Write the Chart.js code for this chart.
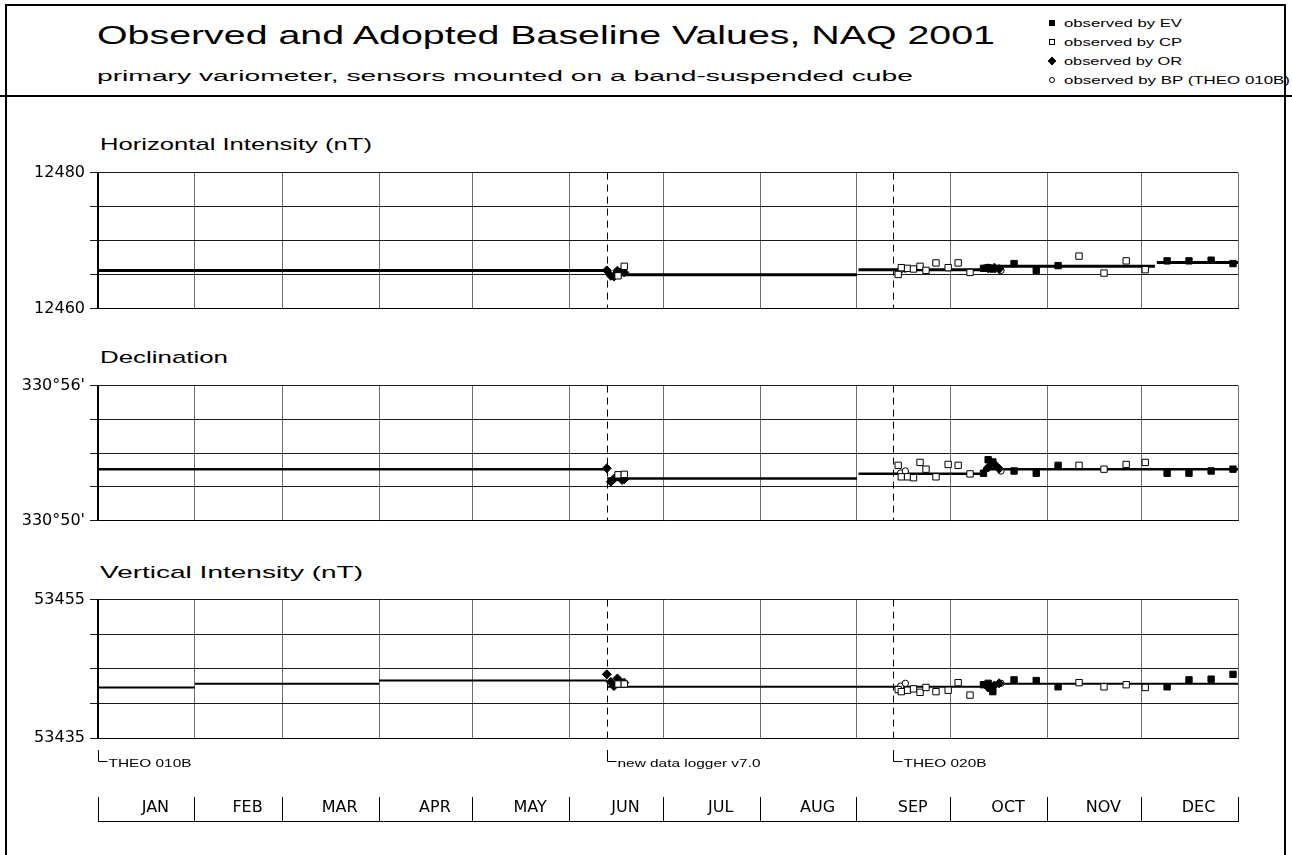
<!DOCTYPE html>
<html>
<head>
<meta charset="utf-8">
<script src="https://cdn.jsdelivr.net/npm/chart.js@4/dist/chart.umd.min.js"></script>
<style>
  body { margin: 0; background: #fff; width: 1292px; height: 855px; position: relative; overflow: hidden;
         font-family: "Liberation Sans", Arial, sans-serif; color: #000; }
  canvas { position: absolute; left: 0; }
  .t { position: absolute; white-space: nowrap; line-height: 1; transform-origin: 0 50%; }
  .rule { position: absolute; background: #000; }
  .mk { position: absolute; width: 6px; height: 6px; box-sizing: border-box; border: 1px solid #000; }
</style>
</head>
<body>
<div class="rule" style="left:5px;top:4px;width:2px;height:851px"></div>
<div class="rule" style="left:5px;top:4px;width:1281px;height:2px"></div>
<div class="rule" style="left:1284px;top:4px;width:2px;height:851px"></div>
<div class="rule" style="left:0;top:95px;width:1292px;height:2px"></div>

<div class="mk" style="left:1049px;top:20px;background:#000"></div>
<div class="mk" style="left:1049px;top:39px;background:#fff"></div>
<div class="mk" style="left:1049px;top:58px;background:#000;transform:rotate(45deg)"></div>
<div class="mk" style="left:1049px;top:77px;background:#fff;border-radius:50%"></div>

<canvas id="panelH" width="1250" height="165" style="top:158px"></canvas>
<canvas id="panelD" width="1250" height="164" style="top:371px"></canvas>
<canvas id="panelZ" width="1250" height="193" style="top:585px"></canvas>
<canvas id="months" width="1250" height="40" style="top:790px"></canvas>

<script>
// month layout (day of year 2001)
const monthStarts = [0, 31, 59, 90, 120, 151, 181, 212, 243, 273, 304, 334, 365];
const monthNames = ['JAN', 'FEB', 'MAR', 'APR', 'MAY', 'JUN', 'JUL', 'AUG', 'SEP', 'OCT', 'NOV', 'DEC'];

// instrument changes
const changeDays = [163, 254.6];
const noteDays = [0, 163, 254.6];
const noteLabels = ['THEO 010B', 'new data logger v7.0', 'THEO 020B'];

// observations: day of year, H (nT), D (minutes past 330°), Z (nT)
const evDays = [283.5, 285, 286.5, 293.3, 300.4, 307.4, 342.3, 349.3, 356.4, 363.4];
const evH = [12465.9, 12466.0, 12465.8, 12466.6, 12465.6, 12466.3, 12467.0, 12467.0, 12467.1, 12466.6];
const evD = [52.1, 52.7, 52.6, 52.2, 52.1, 52.45, 52.1, 52.1, 52.2, 52.28];
const evZ = [53442.7, 53442.9, 53441.7, 53443.4, 53443.3, 53442.4, 53442.4, 53443.4, 53443.5, 53444.2];

const cpDays = [166.5, 168.5, 256.2, 257.2, 259.2, 261.1, 263.2, 265.1, 268.3, 272.2, 275.4, 279.2, 314.1, 322.1, 329.2, 335.3];
const cpH = [12464.8, 12466.2, 12465.0, 12466.0, 12465.9, 12465.8, 12466.2, 12465.6, 12466.7, 12466.0, 12466.7, 12465.3, 12467.7, 12465.2, 12467.0, 12465.7];
const cpD = [52.03, 52.05, 52.45, 51.94, 51.94, 51.9, 52.58, 52.28, 51.94, 52.49, 52.45, 52.07, 52.45, 52.28, 52.49, 52.58];
const cpZ = [53442.8, 53442.8, 53442.0, 53441.7, 53441.9, 53442.1, 53441.6, 53442.3, 53441.7, 53441.9, 53443.0, 53441.2, 53443.0, 53442.4, 53442.7, 53442.3];

const orDays = [162.9, 164.2, 165.2, 166.3, 167.8, 168.5, 285.0, 287.0, 288.5];
const orH = [12465.6, 12464.8, 12464.7, 12465.55, 12465.45, 12465.3, 12465.9, 12466.0, 12465.8];
const orD = [52.32, 51.72, 51.85, 51.95, 51.8, 51.83, 52.35, 52.5, 52.3];
const orZ = [53444.2, 53443.1, 53442.5, 53443.6, 53442.9, 53443.0, 53442.3, 53442.6, 53442.9];

const bpDays = [257.0, 258.5, 289.1];
const bpH = [12465.7, 12465.8, 12465.6];
const bpD = [52.11, 52.2, 52.2];
const bpZ = [53442.5, 53442.9, 53442.9];

// adopted baselines: [from day, to day, value]
const baseH = [[0, 163, 12465.6], [163, 243, 12464.95], [243.5, 282.4, 12465.7], [283.3, 338.4, 12466.2], [339, 365, 12466.75]];
const baseD = [[0, 163, 52.28], [163, 243, 51.86], [243.5, 282.4, 52.08], [283.3, 365, 52.28]];
const baseZ = [[0, 31, 53442.3], [31, 90, 53442.85], [90, 163, 53443.3], [163, 282.4, 53442.4], [283.3, 365, 53442.85]];

const tickFont = { family: '"DejaVu Sans", sans-serif', size: 16 };

function pts(days, vals) {
  return days.map((d, i) => ({ x: d, y: vals[i] }));
}

const changeLines = {
  id: 'changeLines',
  beforeDatasetsDraw(chart) {
    const { ctx, chartArea: a, scales: { x } } = chart;
    ctx.save();
    ctx.strokeStyle = '#000';
    ctx.lineWidth = 1;
    ctx.setLineDash([7, 5]);
    changeDays.forEach(d => {
      const px = Math.round(x.getPixelForValue(d)) + 0.5;
      ctx.beginPath();
      ctx.moveTo(px, a.top);
      ctx.lineTo(px, a.bottom);
      ctx.stroke();
    });
    ctx.restore();
  }
};

const notes = {
  id: 'notes',
  afterDraw(chart) {
    const { ctx, chartArea: a, scales: { x } } = chart;
    ctx.save();
    ctx.strokeStyle = '#000';
    ctx.fillStyle = '#000';
    ctx.lineWidth = 1;
    ctx.font = '11px "Liberation Sans", Arial, sans-serif';
    noteDays.forEach((d, i) => {
      const px = Math.round(x.getPixelForValue(d)) + 0.5;
      ctx.beginPath();
      ctx.moveTo(px, a.bottom + 12);
      ctx.lineTo(px, a.bottom + 23.5);
      ctx.lineTo(px + 9, a.bottom + 23.5);
      ctx.stroke();
      ctx.save();
      ctx.translate(px + 10, a.bottom + 29);
      ctx.scale(1.4, 1);
      ctx.fillText(noteLabels[i], 0, 0);
      ctx.restore();
    });
    ctx.restore();
  }
};

function makePanel(id, yMin, yMax, yStep, fmt, obs, base, lineW, padBottom, extra) {
  const marks = [
    { data: pts(evDays, obs.ev), pointStyle: 'rect', pointRadius: 4.5, backgroundColor: '#000', borderColor: '#000' },
    { data: pts(cpDays, obs.cp), pointStyle: 'rect', pointRadius: 4.5, backgroundColor: '#fff', borderColor: '#000' },
    { data: pts(orDays, obs.or), pointStyle: 'rectRot', pointRadius: 4.5, backgroundColor: '#000', borderColor: '#000' },
    { data: pts(bpDays, obs.bp), pointStyle: 'circle', pointRadius: 3.2, backgroundColor: '#fff', borderColor: '#000' }
  ].map(ds => Object.assign(ds, { borderWidth: 1, order: 0 }));
  const lines = base.map(([a, b, v]) => ({
    data: [{ x: a, y: v }, { x: b, y: v }],
    showLine: true, pointRadius: 0, borderColor: '#000', borderWidth: lineW, order: 1
  }));

  return new Chart(document.getElementById(id), {
    type: 'scatter',
    data: { datasets: marks.concat(lines) },
    options: {
      responsive: false,
      animation: false,
      layout: { padding: { left: 0, right: 12, top: 12, bottom: padBottom } },
      plugins: { legend: { display: false }, tooltip: { enabled: false } },
      scales: {
        x: {
          type: 'linear', min: 0, max: 365,
          afterBuildTicks: s => { s.ticks = monthStarts.map(v => ({ value: v })); },
          afterFit: s => { s.height = 0; },
          ticks: { display: false },
          grid: { color: '#6e6e6e', lineWidth: 1, drawTicks: false },
          border: { color: '#000', width: 1 }
        },
        y: {
          min: yMin, max: yMax,
          afterBuildTicks: s => {
            const t = [];
            for (let v = yMin; v <= yMax + 1e-9; v += yStep) t.push({ value: v });
            s.ticks = t;
          },
          afterFit: s => { s.width = 98; },
          ticks: {
            color: '#000', font: tickFont, padding: 5,
            callback: v => (Math.abs(v - yMin) < 1e-9 || Math.abs(v - yMax) < 1e-9) ? fmt(v) : ''
          },
          grid: { color: '#1a1a1a', lineWidth: 1, tickLength: 8 },
          border: { color: '#000', width: 2 }
        }
      }
    },
    plugins: [changeLines].concat(extra || [])
  });
}

makePanel('panelH', 12460, 12480, 5, v => String(v),
  { ev: evH, cp: cpH, or: orH, bp: bpH }, baseH, 3, 10);
makePanel('panelD', 50, 56, 1.5, v => `330°${v}'`,
  { ev: evD, cp: cpD, or: orD, bp: bpD }, baseD, 2.5, 10);
makePanel('panelZ', 53435, 53455, 5, v => String(v),
  { ev: evZ, cp: cpZ, or: orZ, bp: bpZ }, baseZ, 2, 40, [notes]);

// month axis
const monthMids = monthNames.map((m, i) => (monthStarts[i] + monthStarts[i + 1]) / 2);
const monthTicks = monthStarts.concat(monthMids).sort((a, b) => a - b);

new Chart(document.getElementById('months'), {
  type: 'scatter',
  data: { datasets: [] },
  options: {
    responsive: false,
    animation: false,
    layout: { padding: { left: 98, right: 12, top: 0, bottom: 5 } },
    plugins: { legend: { display: false }, tooltip: { enabled: false } },
    scales: {
      x: {
        type: 'linear', position: 'top', min: 0, max: 365,
        afterBuildTicks: s => { s.ticks = monthTicks.map(v => ({ value: v })); },
        afterFit: s => { s.height = 31; },
        grid: {
          drawOnChartArea: false, tickLength: 24, lineWidth: 1,
          color: c => monthStarts.includes(c.tick && c.tick.value) ? '#000' : 'rgba(0,0,0,0)'
        },
        border: { color: '#000', width: 1 },
        ticks: {
          autoSkip: false, maxRotation: 0, padding: -20, labelOffset: 9,
          color: '#000', font: tickFont,
          callback: v => { const i = monthMids.indexOf(v); return i >= 0 ? monthNames[i] : ''; }
        }
      },
      y: { display: false, min: 0, max: 1 }
    }
  }
});

// header and panel titles (stretched like the original print)
const texts = [
  ['Observed and Adopted Baseline Values, NAQ 2001', 97, 35, 25, 898],
  ['primary variometer, sensors mounted on a band-suspended cube', 97, 76, 15.5, 816],
  ['observed by EV', 1064, 23, 10.5, 118],
  ['observed by CP', 1064, 42, 10.5, 118],
  ['observed by OR', 1064, 61, 10.5, 118],
  ['observed by BP (THEO 010B)', 1064, 80, 10.5, 226],
  ['Horizontal Intensity (nT)', 100, 144, 17, 272],
  ['Declination', 100, 357, 17, 128],
  ['Vertical Intensity (nT)', 100, 572, 17, 263]
];
const els = texts.map(([s, x, cy, size, w]) => {
  const el = document.createElement('div');
  el.className = 't';
  el.textContent = s;
  el.style.left = x + 'px';
  el.style.top = (cy - size / 2) + 'px';
  el.style.fontSize = size + 'px';
  document.body.appendChild(el);
  return [el, w];
});
els.forEach(([el, w]) => {
  el.style.transform = `scaleX(${w / el.getBoundingClientRect().width})`;
});
</script>
</body>
</html>
